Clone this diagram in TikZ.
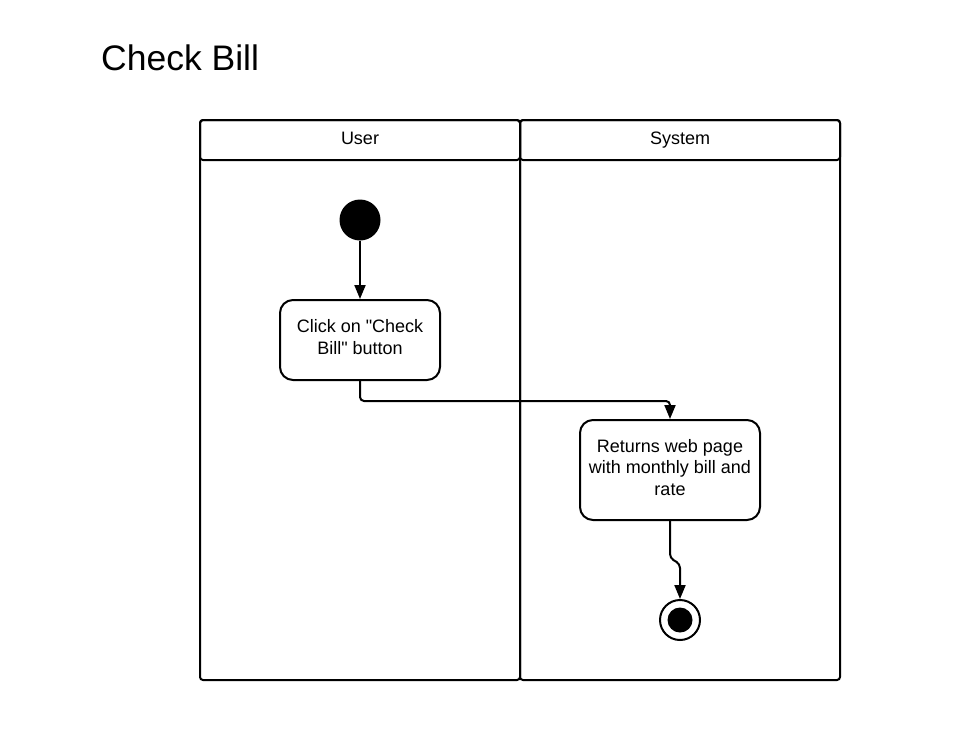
\documentclass[tikz,border=0pt]{standalone}
\usepackage{fontspec}
\setmainfont{Liberation Sans}
\newfontfamily\lsans{Liberation Sans}
\usetikzlibrary{arrows.meta}
\begin{document}
\begin{tikzpicture}[x=1pt,y=-1pt,
  lane/.style={draw,line width=2pt,rounded corners=3pt},
  act/.style={draw,line width=2pt,rounded corners=13pt,align=center,font=\lsans\fontsize{18}{21.5}\selectfont,inner sep=0pt},
  flow/.style={line width=2pt,-{Triangle[length=14pt,width=11pt]},rounded corners=4pt},
  lbl/.style={font=\fontsize{18}{21.5}\selectfont,anchor=base,inner sep=0pt}]
\useasboundingbox (0,0) rectangle (956,740);
\node[anchor=base west,font=\fontsize{35.5}{40}\selectfont,inner sep=0pt] (title) at (101,70) {Check Bill};
% lanes
\draw[lane] (200,120) rectangle (520,680);
\draw[lane] (200,120) rectangle (520,160);
\draw[lane] (520,120) rectangle (840,680);
\draw[lane] (520,120) rectangle (840,160);
\node[lbl] (user) at (360,144) {User};
\node[lbl] (system) at (680,144) {System};
% nodes
\node[circle,fill=black,minimum size=41pt,inner sep=0pt] (start) at (360,220) {};
\node[act,minimum width=160pt,minimum height=80pt] (a1) at (360,340) {Click on "Check\\Bill" button\rule[-6pt]{0pt}{1pt}};
\node[act,minimum width=180pt,minimum height=100pt] (a2) at (670,470) {Returns web page\\with monthly bill and\\rate\rule[-6pt]{0pt}{1pt}};
\node[circle,draw,line width=2pt,minimum size=40pt,inner sep=0pt] (end) at (680,620) {};
\node[circle,fill=black,minimum size=25pt,inner sep=0pt] (endin) at (end.center) {};
% flows
\draw[flow] (start) -- (a1);
\draw[flow] (a1.south) -- ++(0,20) -| (a2.north);
\draw[flow] (a2.south) -- ++(0,37) -- ++(10,6) -- (end.north);
\end{tikzpicture}
\end{document}
